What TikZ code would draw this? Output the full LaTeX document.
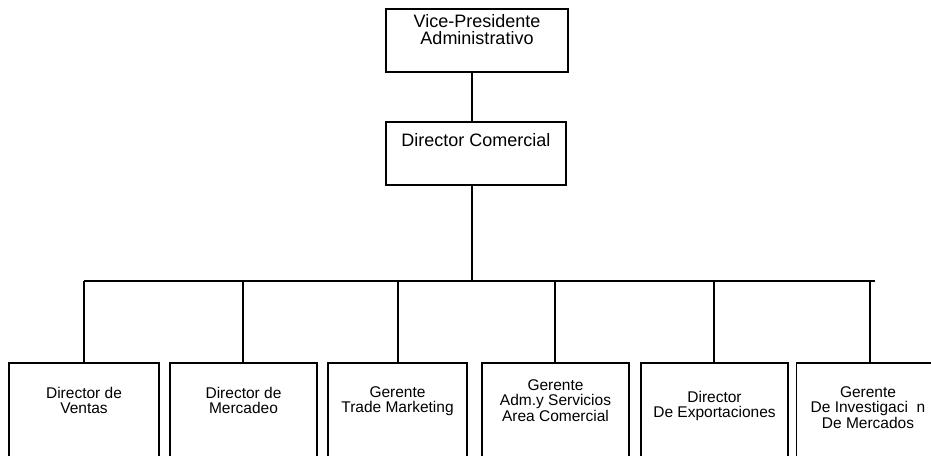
\documentclass[tikz,border=0pt]{standalone}
\usepackage{fontspec}
\setmainfont{Liberation Sans}
\begin{document}
\begin{tikzpicture}[x=1pt,y=-1pt,
  box/.style={draw=black,line width=1.5pt,rectangle,inner sep=0pt},
  bigtxt/.style={anchor=north,inner sep=0pt,align=center,font=\fontsize{18}{17}\selectfont},
  smalltxt/.style={anchor=north,inner sep=0pt,align=center,font=\fontsize{15.5}{15.5}\selectfont},
  conn/.style={draw=black,line width=1.5pt}]
\useasboundingbox (0,0) rectangle (931,455);
\clip (0,0) rectangle (931,455);
% top boxes
\node[box,minimum width=182pt,minimum height=63pt] (vp) at (477,40.5) {};
\node[bigtxt] (vptxt) at (477,14) {Vice-Presidente\\Administrativo};
\node[box,minimum width=180pt,minimum height=63pt] (dc) at (476,153.5) {};
\node[bigtxt] (dctxt) at (476,133) {Director Comercial};
% bottom boxes
\node[box,minimum width=150pt,minimum height=110pt] (b1) at (84,418) {};
\node[box,minimum width=147pt,minimum height=110pt] (b2) at (243.5,418) {};
\node[box,minimum width=139pt,minimum height=110pt] (b3) at (397.5,418) {};
\node[box,minimum width=147pt,minimum height=110pt] (b4) at (555.5,418) {};
\node[box,minimum width=147pt,minimum height=110pt] (b5) at (714.5,418) {};
\node[box,minimum width=147pt,minimum height=110pt] (b6) at (870,418) {};
\node[smalltxt] (t1) at (84,387) {Director de\\Ventas};
\node[smalltxt] (t2) at (243.5,387) {Director de\\Mercadeo};
\node[smalltxt] (t3) at (397.5,386) {Gerente\\Trade Marketing};
\node[smalltxt] (t4) at (555.5,379) {Gerente\\Adm.y Servicios\\Area Comercial};
\node[smalltxt] (t5) at (714.5,391) {Director\\De Exportaciones};
\node[smalltxt] (t6) at (868,386) {Gerente\\De Investigaci\ \ n\\De Mercados};
% connectors
\coordinate (trunk) at (472,0);
\coordinate (bus) at (0,281);
\coordinate (busend) at (875,281);
\coordinate (d1) at (84,0);
\coordinate (d2) at (243,0);
\coordinate (d3) at (398,0);
\coordinate (d4) at (555,0);
\coordinate (d5) at (714,0);
\coordinate (d6) at (870,0);
\draw[conn] (vp.south -| trunk) -- (dc.north -| trunk);
\draw[conn] (dc.south -| trunk) -- (trunk |- bus);
\draw[conn] (d1 |- bus) -- (busend);
\draw[conn] (d1 |- bus) -- (b1.north -| d1);
\draw[conn] (d2 |- bus) -- (b2.north -| d2);
\draw[conn] (d3 |- bus) -- (b3.north -| d3);
\draw[conn] (d4 |- bus) -- (b4.north -| d4);
\draw[conn] (d5 |- bus) -- (b5.north -| d5);
\draw[conn] (d6 |- bus) -- (b6.north -| d6);
\end{tikzpicture}
\end{document}
